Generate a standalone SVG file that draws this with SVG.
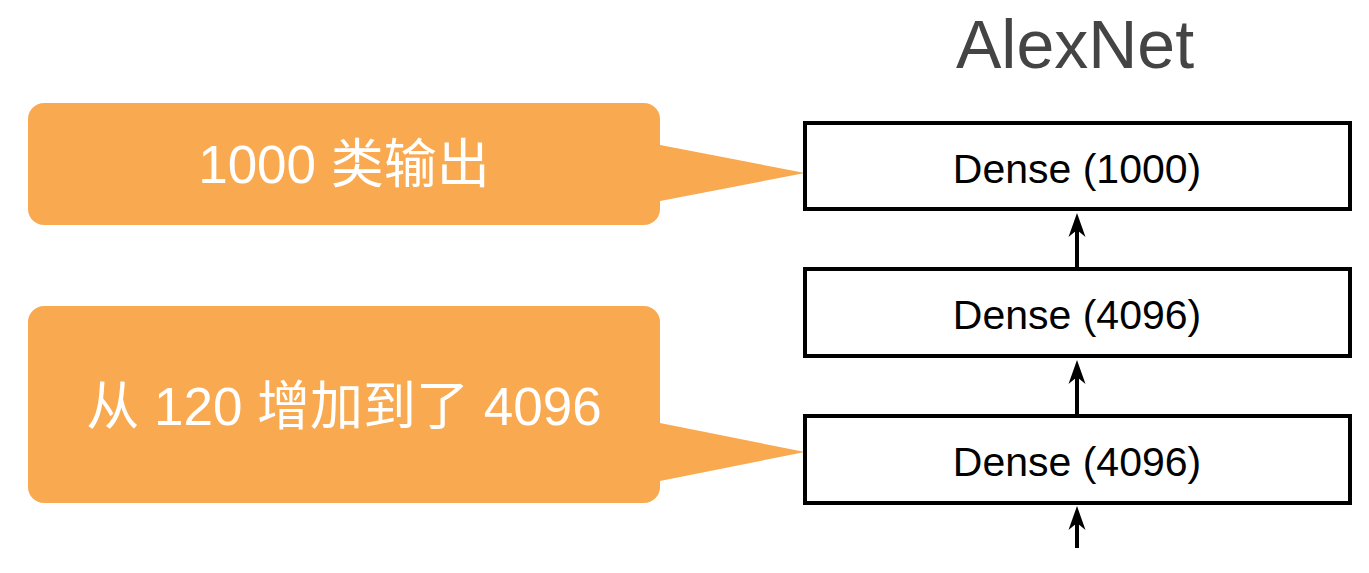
<svg xmlns="http://www.w3.org/2000/svg" width="1369" height="573" viewBox="0 0 1369 573">
<defs>
<style>
.bg{fill:#ffffff}
.callout{fill:#F9AA50}
.ctext{fill:#ffffff;font-family:"Liberation Sans","Noto Sans CJK SC",sans-serif;font-size:53px;text-anchor:middle}
.box{fill:#ffffff;stroke:#000000;stroke-width:4}
.label{fill:#000000;font-family:"Liberation Sans",Arial,sans-serif;font-size:41px;text-anchor:middle}
.title{fill:#444444;font-family:"Liberation Sans",Arial,sans-serif;font-size:68px;text-anchor:middle}
.conn{stroke:#000000;stroke-width:4;fill:none}
.head{fill:#000000}
</style>
<path id="ah" d="M0,0 L8.5,24 L0,17 L-8.5,24 Z"/>
</defs>
<rect class="bg" x="0" y="0" width="1369" height="573"/>
<text class="title" x="1075" y="68">AlexNet</text>
<g id="callout1">
<rect class="callout" x="28" y="103" width="632" height="122" rx="16"/>
<path class="callout" d="M655,144 L805,173 L655,202 Z"/>
<text class="ctext" x="344" y="183">1000 类输出</text>
</g>
<g id="callout2">
<rect class="callout" x="28" y="306" width="632" height="197" rx="16"/>
<path class="callout" d="M655,422 L805,452 L655,482 Z"/>
<text class="ctext" x="344" y="425">从 120 增加到了 4096</text>
</g>
<g id="dense1000">
<rect class="box" x="805" y="123" width="545" height="86"/>
<text class="label" x="1077" y="183">Dense (1000)</text>
</g>
<g id="dense4096a">
<rect class="box" x="805" y="269" width="545" height="87"/>
<text class="label" x="1077" y="329">Dense (4096)</text>
</g>
<g id="dense4096b">
<rect class="box" x="805" y="416" width="545" height="87"/>
<text class="label" x="1077" y="476">Dense (4096)</text>
</g>
<g id="connectors">
<line class="conn" x1="1077" y1="267" x2="1077" y2="228"/>
<use class="head" href="#ah" x="1077" y="213"/>
<line class="conn" x1="1077" y1="414" x2="1077" y2="375"/>
<use class="head" href="#ah" x="1077" y="360"/>
<line class="conn" x1="1077" y1="548" x2="1077" y2="520"/>
<use class="head" href="#ah" x="1077" y="506"/>
</g>
</svg>
